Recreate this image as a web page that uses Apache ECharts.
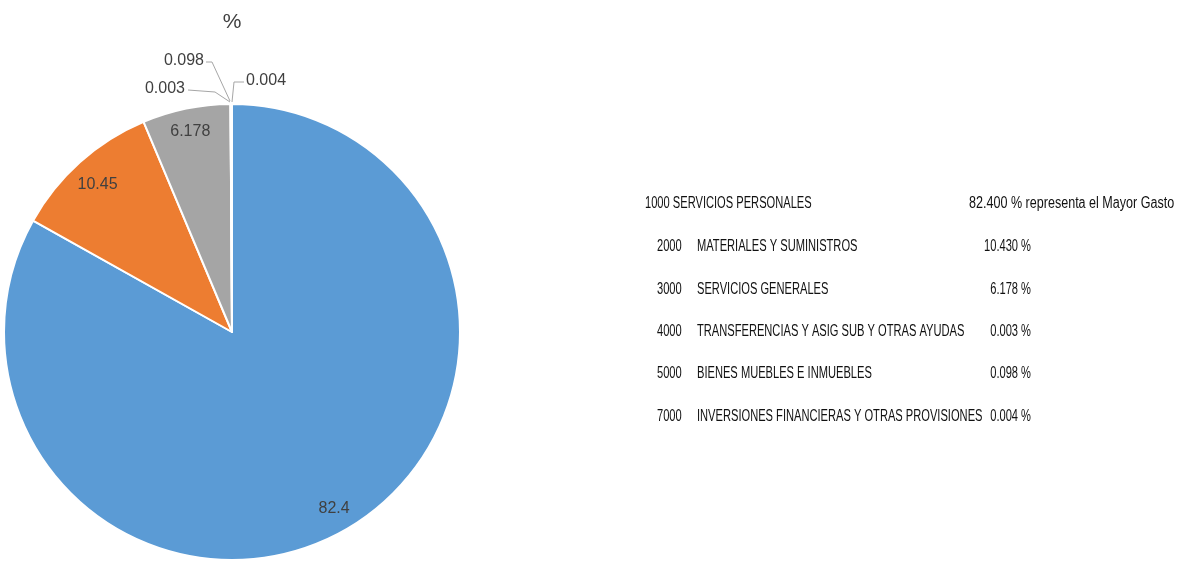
<!DOCTYPE html>
<html>
<head>
<meta charset="utf-8">
<script src="https://cdn.jsdelivr.net/npm/echarts@6/dist/echarts.min.js"></script>
<style>
html,body{margin:0;padding:0;background:#fff;}
#chart{width:1179px;height:567px;}
</style>
</head>
<body>
<div id="chart"></div>
<script>
// ---- data ----
const sliceNames = ['1000', '2000', '3000', '4000', '5000', '7000'];
const sliceValues = [82.4, 10.45, 6.178, 0.003, 0.098, 0.004];
const sliceColors = ['#5B9BD5', '#ED7D31', '#A5A5A5', '#FFC000', '#4472C4', '#70AD47'];
const chartTitle = '%';

const legendCodes = ['1000', '2000', '3000', '4000', '5000', '7000'];
const legendNames = ['SERVICIOS PERSONALES', 'MATERIALES Y SUMINISTROS', 'SERVICIOS GENERALES',
  'TRANSFERENCIAS Y ASIG SUB Y OTRAS AYUDAS', 'BIENES MUEBLES E INMUEBLES',
  'INVERSIONES FINANCIERAS Y OTRAS PROVISIONES'];
const legendPercents = ['82.400', '10.430', '6.178', '0.003', '0.098', '0.004'];
const legendNote = 'representa el Mayor Gasto';

// ---- layout ----
const CX = 232, CY = 332, R = 228;
const total = sliceValues.reduce((a, b) => a + b, 0);
function midAngle(i) {
  let s = 0;
  for (let j = 0; j < i; j++) s += sliceValues[j];
  return (s + sliceValues[i] / 2) / total * Math.PI * 2;
}
const TX = CX, TY = CY - R; // top of the pie
const outsideLabels = {
  3: { x: TX - 47, y: TY - 15, align: 'right', pts: [[TX - 2, TY - 2], [TX - 17, TY - 12], [TX - 44, TY - 14]] },
  4: { x: TX - 28, y: TY - 43, align: 'right', pts: [[TX - 2, TY - 3], [TX - 20, TY - 42], [TX - 26, TY - 42]] },
  5: { x: TX + 14, y: TY - 23, align: 'left', pts: [[TX, TY - 2], [TX + 2, TY - 22], [TX + 12, TY - 22]] }
};

const chart = echarts.init(document.getElementById('chart'));

const pieData = sliceValues.map((v, i) => ({
  name: sliceNames[i],
  value: v,
  itemStyle: { color: sliceColors[i] },
  label: i < 3 ? { position: 'inside' } : { position: 'outside' },
  labelLine: { show: i >= 3 }
}));

const graphics = [];
graphics.push({
  type: 'text', x: CX, y: 22,
  style: { text: chartTitle, font: '21px "Liberation Sans", Arial, sans-serif', fill: '#404040',
    textAlign: 'center', textVerticalAlign: 'middle', align: 'center', verticalAlign: 'middle' }
});
const rowY = [204, 247, 290, 332, 374, 417];
const font = '16px "Liberation Sans", Arial, sans-serif';
const SX = 0.695;
function txt(t, x, y, align, sx) {
  return { type: 'text', x: x, y: y, scaleX: sx || SX, scaleY: 1,
    style: { text: t, font: font, fill: '#111',
      textAlign: align, textVerticalAlign: 'middle', align: align, verticalAlign: 'middle' } };
}
for (let i = 0; i < legendCodes.length; i++) {
  const y = rowY[i];
  if (i === 0) {
    graphics.push(txt(legendCodes[i] + ' ' + legendNames[i], 645, y, 'left'));
    graphics.push(txt(legendPercents[i] + ' % ' + legendNote, 969, y, 'left', 0.785));
  } else {
    graphics.push(txt(legendCodes[i], 657, y, 'left'));
    graphics.push(txt(legendNames[i], 697, y, 'left'));
    graphics.push(txt(legendPercents[i] + ' %', 1031, y, 'right'));
  }
}

chart.setOption({
  animation: false,
  backgroundColor: '#fff',
  graphic: graphics,
  series: [{
    type: 'pie',
    center: [CX, CY],
    radius: [0, R],
    startAngle: 90,
    clockwise: true,
    avoidLabelOverlap: false,
    itemStyle: { borderColor: '#fff', borderWidth: 2 },
    label: {
      show: true,
      formatter: '{c}',
      color: '#404040',
      fontSize: 16,
      fontFamily: '"Liberation Sans", Arial, sans-serif'
    },
    labelLine: { lineStyle: { color: '#A6A6A6', width: 1 }, length: 10, length2: 10, smooth: false },
    labelLayout: function (p) {
      const i = p.dataIndex;
      if (i < 3) {
        const a = midAngle(i);
        const rr = R * (i === 2 ? 0.91 : 0.885);
        return { x: CX + rr * Math.sin(a), y: CY - rr * Math.cos(a) + 3, align: 'center', verticalAlign: 'middle' };
      }
      const o = outsideLabels[i];
      return { x: o.x, y: o.y, align: o.align, verticalAlign: 'middle', labelLinePoints: o.pts };
    },
    data: pieData
  }]
});
</script>
</body>
</html>
